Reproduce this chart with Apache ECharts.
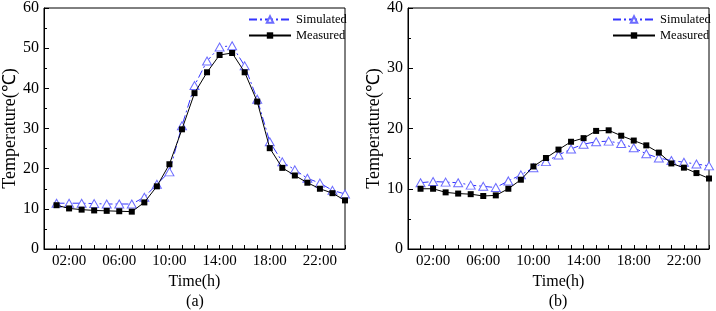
<!DOCTYPE html>
<html>
<head>
<meta charset="utf-8">
<script src="https://cdn.jsdelivr.net/npm/echarts@6/dist/echarts.min.js"></script>
<style>
html,body{margin:0;padding:0;background:#fff;}
#chart{width:716px;height:311px;}
</style>
</head>
<body>
<div id="chart"></div>
<script>
// Hours of day for each sample
const hours = [1,2,3,4,5,6,7,8,9,10,11,12,13,14,15,16,17,18,19,20,21,22,23,24];
// Panel (a)
const simulatedA = [11.4,11.4,11.4,11.3,11.2,11.2,11.2,12.9,16.1,19.2,30.7,40.7,46.8,50.3,50.6,45.6,37.3,26.7,21.7,19.7,17.6,16.4,14.6,13.7];
const measuredA  = [10.9,10.1,9.8,9.6,9.5,9.4,9.3,11.6,15.6,21.1,29.8,38.8,44.0,48.3,48.8,44.0,36.7,25.1,20.2,18.3,16.5,15.0,13.9,12.1];
// Panel (b)
const simulatedB = [11.0,11.2,11.1,11.0,10.6,10.4,10.2,11.3,12.3,13.5,14.5,15.6,16.6,17.4,17.8,17.9,17.5,16.8,15.8,15.1,14.7,14.4,14.1,13.8];
const measuredB  = [10.0,10.0,9.4,9.2,9.1,8.8,8.9,10.0,11.5,13.7,15.1,16.5,17.8,18.4,19.6,19.7,18.8,18.0,17.2,16.0,14.2,13.5,12.6,11.7];
// Tick labels
const xTickHours  = [2,6,10,14,18,22];
const xTickLabels = ['02:00','06:00','10:00','14:00','18:00','22:00'];
const yTitle = 'Temperature(℃)';
const xTitle = 'Time(h)';
const panelLabels = ['(a)','(b)'];
const seriesNames = ['Simulated','Measured'];

const FONT = "'Liberation Serif','Times New Roman',serif";
const pair = (xs, ys) => xs.map((x,i)=>[x, ys[i]]);

function xAxis(idx){
  return {
    type:'value', gridIndex:idx, min:0, max:24, interval:1,
    name:xTitle, nameLocation:'middle', nameGap:23,
    nameTextStyle:{fontFamily:FONT,fontSize:16,color:'#000'},
    axisLine:{show:true,lineStyle:{color:'#000',width:1}},
    axisTick:{show:true,inside:true,length:4,lineStyle:{color:'#000'}},
    axisLabel:{fontFamily:FONT,fontSize:15,color:'#000',margin:5,showMinLabel:true,showMaxLabel:true,
      formatter:v=>{const k=xTickHours.indexOf(Math.round(v)); return (k>=0 && Math.abs(v-Math.round(v))<1e-6)?xTickLabels[k]:'';}},
    splitLine:{show:false}
  };
}
function yAxis(idx,max){
  return {
    type:'value', gridIndex:idx, min:0, max:max, interval:10,
    name:yTitle, nameLocation:'middle', nameGap:24, nameRotate:90,
    nameTextStyle:{fontFamily:FONT,fontSize:18,color:'#000'},
    axisLine:{show:true,lineStyle:{color:'#000',width:1}},
    axisTick:{show:true,inside:true,length:5,lineStyle:{color:'#000'}},
    minorTick:{show:true,splitNumber:2,length:3,lineStyle:{color:'#000'}},
    axisLabel:{fontFamily:FONT,fontSize:16,color:'#000',margin:5},
    splitLine:{show:false}
  };
}
const simStyle = {
  type:'line', symbol:'triangle', symbolSize:[9,8],
  lineStyle:{color:'#3434ff',width:1,type:[8,3,2,3]},
  itemStyle:{color:'#ffffff',borderColor:'#6c6cff',borderWidth:1},
  z:2
};
const meaStyle = {
  type:'line', symbol:'rect', symbolSize:6,
  lineStyle:{color:'#000',width:1},
  itemStyle:{color:'#000'},
  z:3
};
function legend(left){
  return {
    orient:'vertical', left:left, top:8, itemWidth:42, itemHeight:8, itemGap:3,
    data:seriesNames, selectedMode:false,
    textStyle:{fontFamily:FONT,fontSize:12.5,color:'#000',lineHeight:12}
  };
}
const option = {
  animation:false,
  backgroundColor:'#fff',
  grid:[
    {left:44,right:371,top:7,bottom:62,show:true,borderColor:'#000',borderWidth:1},
    {left:408,right:7,top:7,bottom:62,show:true,borderColor:'#000',borderWidth:1}
  ],
  legend:[legend(243), legend(607)],
  xAxis:[xAxis(0), xAxis(1)],
  yAxis:[yAxis(0,60), yAxis(1,40)],
  series:[
    Object.assign({name:seriesNames[0],xAxisIndex:0,yAxisIndex:0,data:pair(hours,simulatedA)},simStyle),
    Object.assign({name:seriesNames[1],xAxisIndex:0,yAxisIndex:0,data:pair(hours,measuredA)},meaStyle),
    Object.assign({name:seriesNames[0],xAxisIndex:1,yAxisIndex:1,data:pair(hours,simulatedB)},simStyle),
    Object.assign({name:seriesNames[1],xAxisIndex:1,yAxisIndex:1,data:pair(hours,measuredB)},meaStyle)
  ],
  graphic:[
    {type:'text',x:195,y:302,style:{text:panelLabels[0],font:"16px 'Liberation Serif'",fill:'#000',textAlign:'center',textVerticalAlign:'middle'}},
    {type:'text',x:558,y:302,style:{text:panelLabels[1],font:"16px 'Liberation Serif'",fill:'#000',textAlign:'center',textVerticalAlign:'middle'}}
  ]
};
const chart = echarts.init(document.getElementById('chart'),null,{renderer:'canvas'});
chart.setOption(option);
</script>
</body>
</html>
